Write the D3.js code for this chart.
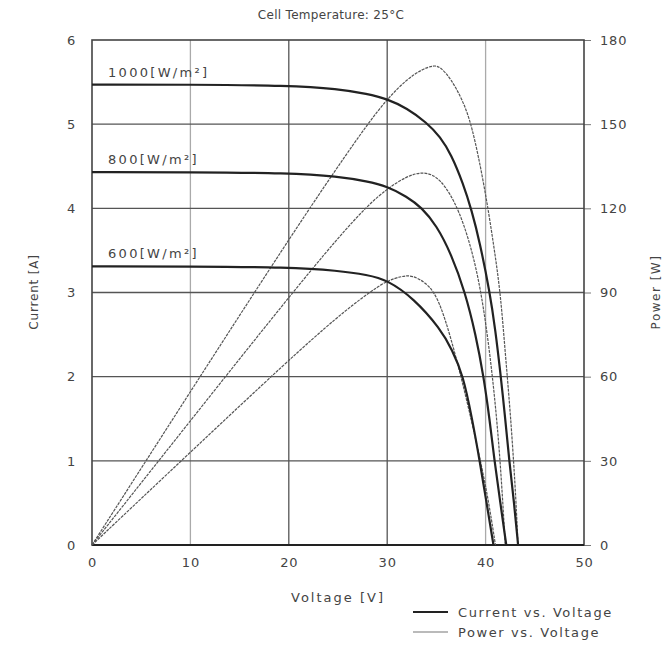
<!DOCTYPE html>
<html>
<head>
<meta charset="utf-8">
<script src="https://cdn.jsdelivr.net/npm/d3@7"></script>
<style>
  body { margin: 0; background: #fff; }
  text { font-family: "DejaVu Sans", sans-serif; fill: #444; }
</style>
</head>
<body>
<svg id="chart" width="671" height="646"></svg>
<script>
// values
const xTicks = [0, 10, 20, 30, 40, 50]
const currentTicks = [0, 1, 2, 3, 4, 5, 6]
const powerTicks = [0, 30, 60, 90, 120, 150, 180]
const irradiance = ["1000[W/m²]", "800[W/m²]", "600[W/m²]"]

const iv1000V = [0, 10, 20, 25, 28, 30, 32, 34, 35.4, 36.5, 37.7, 38.6, 39.4, 40.4, 41.0, 41.5, 42.0, 42.4, 42.9, 43.3]
const iv1000I = [5.47, 5.47, 5.46, 5.42, 5.36, 5.30, 5.19, 5.02, 4.85, 4.64, 4.30, 3.97, 3.60, 3.02, 2.55, 2.05, 1.50, 1.00, 0.5, 0]
const iv800V = [0, 10, 20, 25, 28, 30, 32, 33.5, 35.0, 36.5, 37.9, 39.0, 39.8, 40.4, 40.9, 41.5, 42.1]
const iv800I = [4.43, 4.43, 4.42, 4.38, 4.32, 4.26, 4.14, 4.01, 3.80, 3.46, 3.01, 2.5, 2.0, 1.5, 1.0, 0.5, 0]
const iv600V = [0, 10, 20, 25, 28, 30, 32.7, 35.4, 36.6, 37.7, 38.6, 39.4, 40.1, 40.8]
const iv600I = [3.31, 3.31, 3.30, 3.26, 3.21, 3.15, 2.93, 2.57, 2.32, 2.02, 1.52, 1.0, 0.5, 0]

const pv1000V = [0, 10, 20, 25, 28, 30, 32, 33.5, 34.7, 35.4, 36.5, 37.6, 38.6, 39.9, 40.8, 41.5, 42.0, 42.5, 43.0, 43.3]
const pv1000P = [0, 54.7, 109, 135, 150, 159, 166, 169.5, 171, 170.5, 166, 159, 150, 127.7, 107.5, 90.3, 68.3, 48, 22, 0]
const pv800V = [0, 10, 20, 25, 28, 30, 32, 33.7, 35.4, 37.4, 39.1, 40.1, 40.9, 41.5, 42.0]
const pv800P = [0, 44.3, 88.4, 109.5, 121, 127, 131.5, 133.2, 131, 119.4, 99.2, 77.8, 54, 30, 0]
const pv600V = [0, 10, 20, 25, 28, 30, 31.5, 32.5, 34, 35.4, 37.4, 39.1, 40.2, 41.0]
const pv600P = [0, 33.1, 66, 81.5, 89.6, 94.3, 95.8, 96.2, 93.5, 87.3, 62, 36.2, 18, 0]

let svg = d3.select('#chart')

let x = d3.scaleLinear().domain([0, 50]).range([92, 584])
let yI = d3.scaleLinear().domain([0, 6]).range([545, 40])
let yP = d3.scaleLinear().domain([0, 180]).range([545, 40])

// grid
svg.append('g')
  .selectAll('line')
  .data(xTicks.slice(1, -1))
  .join('line')
  .attr('x1', d => x(d)).attr('x2', d => x(d))
  .attr('y1', yI(6)).attr('y2', yI(0))
  .attr('stroke', d => (d == 10 || d == 40) ? '#aaa' : '#555')
  .attr('stroke-width', 1.3)

svg.append('g')
  .selectAll('line')
  .data(currentTicks.slice(1, -1))
  .join('line')
  .attr('x1', x(0)).attr('x2', x(50))
  .attr('y1', d => yI(d)).attr('y2', d => yI(d))
  .attr('stroke', '#555')
  .attr('stroke-width', 1.3)

// axes
let bottom = svg.append('g').attr('transform', `translate(0,${yI(0)})`)
  .call(d3.axisBottom(x).tickValues(xTicks).tickFormat(d3.format('d')).tickSize(0).tickPadding(13))
let left = svg.append('g').attr('transform', `translate(${x(0)},0)`)
  .call(d3.axisLeft(yI).tickValues(currentTicks).tickFormat(d3.format('d')).tickSize(0).tickPadding(16))
let right = svg.append('g').attr('transform', `translate(${x(50)},0)`)
  .call(d3.axisRight(yP).tickValues(powerTicks).tickFormat(d3.format('d')).tickSize(7).tickPadding(9))

for (let ax of [bottom, left, right]) {
  ax.select('.domain').remove()
  ax.selectAll('text').style('font-size', '13px').style('letter-spacing', '0.8px').attr('fill', '#555')
  ax.selectAll('line').attr('stroke', '#777')
}

// frame
svg.append('rect')
  .attr('x', x(0)).attr('y', yI(6))
  .attr('width', x(50) - x(0)).attr('height', yI(0) - yI(6))
  .attr('fill', 'none').attr('stroke', '#444').attr('stroke-width', 1.6)
svg.append('line')
  .attr('x1', x(0)).attr('x2', x(50)).attr('y1', yI(0)).attr('y2', yI(0))
  .attr('stroke', '#222').attr('stroke-width', 2.2)

// curves
let ivLine = d3.line().x(d => x(d[0])).y(d => yI(d[1])).curve(d3.curveBasis)
let pvLine = d3.line().x(d => x(d[0])).y(d => yP(d[1])).curve(d3.curveBasis)

let ivSets = [d3.zip(iv1000V, iv1000I), d3.zip(iv800V, iv800I), d3.zip(iv600V, iv600I)]
let pvSets = [d3.zip(pv1000V, pv1000P), d3.zip(pv800V, pv800P), d3.zip(pv600V, pv600P)]

svg.append('g')
  .selectAll('path')
  .data(pvSets)
  .join('path')
  .attr('d', pvLine)
  .attr('fill', 'none')
  .attr('stroke', '#555')
  .attr('stroke-width', 1.2)
  .attr('stroke-dasharray', '3,1')

svg.append('g')
  .selectAll('path')
  .data(ivSets)
  .join('path')
  .attr('d', ivLine)
  .attr('fill', 'none')
  .attr('stroke', '#222')
  .attr('stroke-width', 2.2)

// irradiance labels
svg.append('g')
  .selectAll('text')
  .data(irradiance)
  .join('text')
  .attr('x', 108)
  .attr('y', (d, i) => yI(ivSets[i][0][1]) - 8)
  .style('font-size', '13px')
  .style('letter-spacing', '2.3px')
  .attr('fill', '#555')
  .text(d => d)

// titles
svg.append('text').attr('x', 331).attr('y', 19).attr('text-anchor', 'middle')
  .style('font-size', '12px').style('letter-spacing', '0.3px').text('Cell Temperature: 25°C')
svg.append('text').attr('x', 338).attr('y', 602).attr('text-anchor', 'middle')
  .style('font-size', '13px').style('letter-spacing', '2px').text('Voltage [V]')
svg.append('text').attr('transform', 'translate(38,292) rotate(-90)').attr('text-anchor', 'middle')
  .style('font-size', '12px').style('letter-spacing', '0.8px').text('Current [A]')
svg.append('text').attr('transform', 'translate(660,292) rotate(-90)').attr('text-anchor', 'middle')
  .style('font-size', '12px').style('letter-spacing', '1.5px').text('Power [W]')

// legend
const legendItems = [
  {name: 'Current vs. Voltage', width: 2.2, color: '#222'},
  {name: 'Power vs. Voltage', width: 1.1, color: '#777'}
]
let lg = svg.append('g')
  .selectAll('g')
  .data(legendItems)
  .join('g')
  .attr('transform', (d, i) => `translate(413,${612 + i * 20})`)
lg.append('line').attr('x1', 0).attr('x2', 35)
  .attr('stroke', d => d.color).attr('stroke-width', d => d.width)
lg.append('text').attr('x', 45).attr('y', 5)
  .style('font-size', '13px').style('letter-spacing', '1.6px').text(d => d.name)
</script>
</body>
</html>
